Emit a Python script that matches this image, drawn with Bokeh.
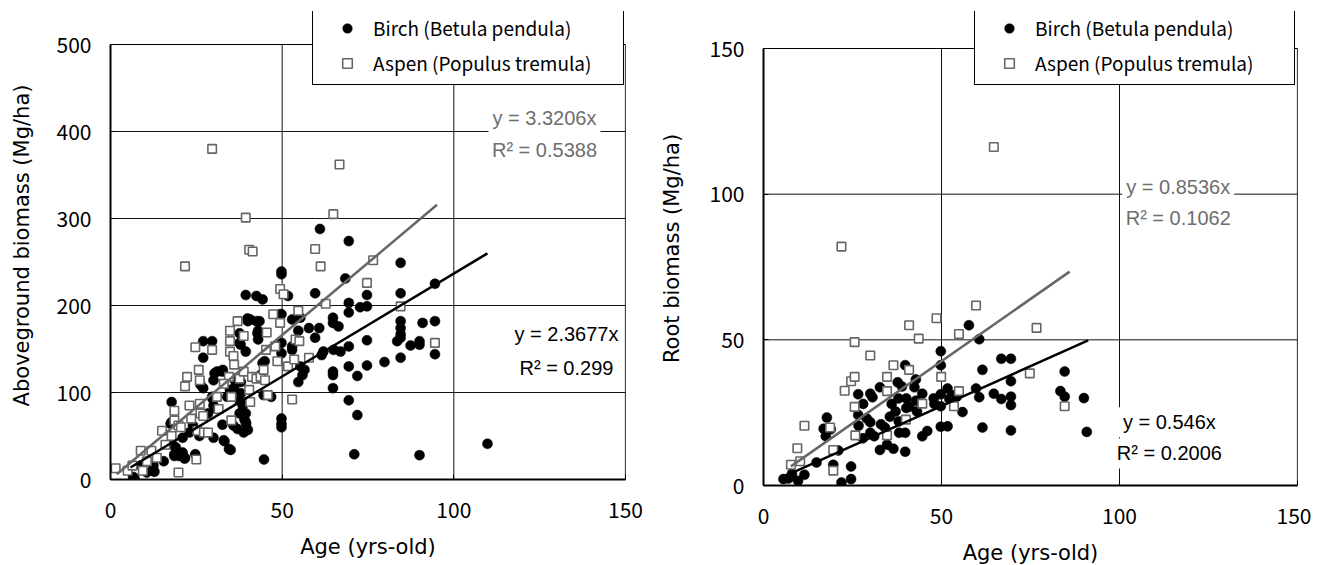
from bokeh.plotting import figure
from bokeh.models import Range1d, FixedTicker, Legend, LegendItem, Label
from bokeh.layouts import row
from bokeh.embed import file_html
from bokeh.resources import INLINE

# ---------------- data ----------------
# Left panel: aboveground biomass (Mg/ha) vs age (yrs)
birch_age_agb = [6.6, 12.5, 12.5, 17.8, 17.8, 18.6, 20, 21.7, 24.7, 21, 19, 27, 27, 29.6, 27, 29.6, 30, 30, 31, 30,
                 32.7, 33, 34.5, 34.8, 35.8, 36, 37, 37.6, 37, 37.6, 38, 37.6, 38.8, 39.4, 39.4, 39.4, 39.4, 40.7, 40,
                 42.5, 44.3, 42.5, 43, 43, 44.3, 44.6, 43.7, 44.7, 46.8, 49.8, 49.8, 49.8, 49.8, 49.8, 49.8, 49.8, 49.8,
                 51.7, 52.9, 52.9, 52.9, 54.7, 54.7, 55.3, 55.3, 55.9, 56.5, 57.8, 59.6, 59.6, 60.8, 61, 61.5, 62, 64.8,
                 64.8, 64.8, 64.8, 64.8, 65, 66.4, 67, 68.4, 69.4, 69.4, 69.4, 69.4, 69.4, 69.4, 71, 71.9, 71.9, 72.7,
                 74.7, 74.7, 74.7, 74.7, 79.8, 83.5, 84.5, 84.5, 84.5, 84.5, 84.5, 84.5, 84.5, 87.4, 90, 90, 90, 90.9,
                 94.5, 94.5, 94.5, 109.8, 35.8, 38, 38.5, 34, 28.4, 25.9, 24, 23, 21, 15.5, 10.6, 8.8, 30.3, 32.6, 26.2,
                 29.7, 30.3, 32.6, 33.2, 35, 39, 39.5, 40, 17.5, 18, 18.6, 21.6, 12.8, 7, 35, 36.4, 37.9, 38.4, 37.6,
                 37.9, 39.9, 43.4, 42.8, 44.9, 49.5]
birch_agb = [3, 10, 16, 89, 66, 27, 27, 25, 29, 48, 37, 159, 140, 159, 105, 95, 85, 48, 124, 114,
             126, 45, 35, 103, 62, 105, 58, 91, 112, 76, 112, 157, 54, 212, 66, 76, 147, 184, 182,
             211, 207, 182, 171, 161, 134, 97, 120, 23, 95, 239, 236, 70, 64, 60, 190, 157, 145,
             211, 153, 149, 184, 112, 171, 186, 130, 120, 126, 174, 214, 163, 174, 288, 143, 147, 186,
             180, 124, 105, 120, 149, 176, 147, 231, 274, 203, 192, 153, 130, 91, 29, 74, 119, 198,
             212, 199, 160, 131, 135, 159, 249, 214, 182, 174, 167, 163, 140, 154, 159, 155, 28, 180,
             225, 182, 144, 41, 116, 99, 85, 95, 76, 50, 62, 54, 31, 21, 8, 16, 122, 124, 109,
             93, 82, 63, 44, 34, 69, 64, 57, 64, 40, 29, 24, 9, 1, 101, 113, 90, 78, 168,
             155, 185, 182, 168, 136, 190]

aspen_age_agb = [1.5, 5, 6.4, 8.8, 9.4, 10.6, 11.9, 13.5, 15, 17.8, 18.6, 18.6, 19.8, 19.8, 21.7, 21.7, 22.3, 23.5,
                 24.7, 25, 25.3, 25.7, 26, 26, 26.2, 27.2, 28.4, 29.6, 29.6, 31.5, 34.5, 34.8, 34.8, 34.8, 35.2,
                 35.2, 35.8, 36, 37, 37.6, 38.8, 38.8, 39.4, 40.4, 41.4, 40.4, 40.7, 41.2, 42.5, 43.7, 44.6, 45,
                 45.3, 45.5, 45.8, 47.4, 48, 48.6, 49.4, 50.4, 49.4, 51.7, 52.9, 53.5, 53.9, 54.7, 55, 59.6, 61.2,
                 62.7, 64.9, 66.7, 57.8, 76.5, 74.7, 84.5, 94.5, 16, 20.5, 23, 27, 31, 33]
aspen_agb = [13, 10, 16, 33, 10, 21, 33, 25, 56, 50, 79, 68, 8, 62, 245, 107, 118, 70,
             152, 23, 56, 126, 114, 87, 76, 54, 54, 380, 149, 81, 118, 171, 159, 147, 95,
             68, 142, 132, 182, 116, 165, 124, 301, 264, 262, 103, 89, 118, 116, 118, 126, 114,
             149, 169, 97, 190, 153, 136, 219, 213, 180, 130, 92, 138, 161, 194, 159, 265, 245,
             202, 305, 362, 140, 252, 226, 199, 157, 40, 60, 85, 73, 95, 110]

# Right panel: root biomass (Mg/ha) vs age (yrs)
birch_age_root = [5.6, 7, 9.7, 11.5, 14.9, 16.9, 17.8, 17.5, 18.9, 19.6, 21, 21.9, 24.6, 24.6, 26.6, 26.6, 26.7,
                  27.9, 30, 30.6, 30, 30, 31.1, 32.7, 32.7, 34.1, 34.7, 35.5, 36.5, 37.1, 37.7, 37.9, 38.1, 38.9,
                  39.8, 40.1, 39.8, 39.8, 40.1, 42.4, 42.8, 42.8, 43.1, 44.6, 44.6, 46, 47.8, 49.8, 49.8, 49.8,
                  49.8, 49.8, 51.7, 51.7, 52.2, 54.3, 55.9, 57.7, 59.7, 60.6, 60.6, 61.5, 61.5, 64.7, 66.8, 66.8,
                  69.5, 69.5, 69.5, 69.5, 69.5, 83.4, 84.6, 84.6, 90, 90.8, 8, 28, 29, 33, 36, 38, 41, 48, 53]
birch_root = [2.2, 2.4, 1.6, 3.7, 7.9, 19.5, 23.3, 16.9, 19.3, 7.1, 12, 1, 6.5, 2.2, 31.3, 24.2, 20.5,
              16.2, 31.5, 30.3, 21.7, 18.1, 16.9, 33.7, 12.2, 19.9, 14, 23.6, 12.6, 25.4, 35.4, 29.9, 18.1, 34,
              41.3, 29.9, 18.1, 11.6, 26.6, 33.7, 36.4, 29.1, 25.4, 31.5, 16.9, 18.7, 29.9, 46.1, 41.3, 31.3,
              27.2, 20.2, 33.3, 20.3, 29.7, 30.5, 25.2, 55, 33.3, 50.2, 30.3, 39.7, 19.9, 31.5, 29.7, 43.5,
              43.5, 35.8, 30.5, 27.6, 18.9, 32.4, 39.1, 30.5, 30, 18.4, 4, 28, 23, 21, 28, 22, 27, 28, 31]

aspen_age_root = [7.7, 9.5, 10.3, 11.5, 18.7, 19.6, 19.6, 21.9, 22.8, 24.6, 25.6, 25.6, 25.6, 25.8, 30, 34.7, 34.7,
                  34.7, 36.5, 40, 40.9, 40.9, 43.6, 44.6, 48.6, 49.9, 53.5, 54.9, 54.9, 59.7, 64.7, 74.8, 76.7, 84.6]
aspen_root = [7.1, 12.8, 8.3, 20.5, 19.9, 12.2, 5.1, 82, 32.5, 35.8, 37.3, 27, 49.2, 17.2, 44.6, 37.3, 32.4,
              17.2, 41.3, 22.6, 55, 39.7, 50.4, 28.1, 57.4, 37.3, 27.2, 52, 32.4, 61.8, 116.2, 38.5, 54.1, 27.2]

# Linear fits through origin (slope, R2, fitted age span)
agb_birch_fit = {"slope": 2.3677, "r2": "0.299", "x": [5.8, 109.8]}
agb_aspen_fit = {"slope": 3.3206, "r2": "0.5388", "x": [1.8, 95.1]}
root_birch_fit = {"slope": 0.546, "r2": "0.2006", "x": [5.0, 91.2]}
root_aspen_fit = {"slope": 0.8536, "r2": "0.1062", "x": [7.7, 86.0]}

x_ticks = [0, 50, 100, 150]
agb_ticks = [0, 100, 200, 300, 400, 500]
root_ticks = [0, 50, 100, 150]

CJK = "Noto Sans CJK JP"
WIDE = "DejaVu Sans"
ARIAL = "Liberation Sans"
GRAY = "#6e6e6e"
XMAX = 150


def panel(bx, by, ax, ay, bfit, afit, ymax, yticks, ylabel, geom, legend_loc, legend_lw,
          ann_b, ann_a):
    # frame extends above the data area so the legend (which sits above the
    # top border) is not clipped; the top border itself is drawn at ymax.
    fh = geom["fh"] + geom["extra"]
    yend = ymax * fh / geom["fh"]
    p = figure(frame_width=geom["fw"], frame_height=fh,
               x_range=Range1d(0, XMAX), y_range=Range1d(0, yend),
               output_backend="svg", toolbar_location=None,
               min_border_left=geom["l"], min_border_right=geom["r"],
               min_border_top=geom["t"], min_border_bottom=geom["b"],
               background_fill_color="white", border_fill_color="white")
    p.outline_line_color = None
    p.xgrid.visible = False
    p.ygrid.visible = False

    # grid lines, from the tick lists
    vx = [t for t in x_ticks if t > 0]
    hy = [t for t in yticks if t > 0]
    p.segment(x0=vx, y0=[0] * len(vx), x1=vx, y1=[ymax] * len(vx),
              line_color="#111111", line_width=1)
    p.segment(x0=[0] * len(hy), y0=hy, x1=[XMAX] * len(hy), y1=hy,
              line_color="#111111", line_width=1)

    p.xaxis.ticker = FixedTicker(ticks=x_ticks)
    p.yaxis.ticker = FixedTicker(ticks=yticks)
    p.yaxis.bounds = (0, ymax)
    for a in (p.xaxis, p.yaxis):
        a.axis_line_color = "black"
        a.axis_line_width = 2
        a.major_tick_in = 5
        a.major_tick_out = 0
        a.minor_tick_in = 0
        a.minor_tick_out = 0
        a.major_tick_line_color = "black"
        a.major_label_text_font = CJK
        a.major_label_text_font_size = "21px"
        a.major_label_text_color = "black"
        a.axis_label_text_font = WIDE
        a.axis_label_text_font_size = "21px"
        a.axis_label_text_font_style = "normal"
        a.axis_label_text_color = "black"
    p.xaxis.axis_label = "Age (yrs-old)"
    p.yaxis.axis_label = ylabel
    p.xaxis.major_label_standoff = 22
    p.xaxis.axis_label_standoff = geom["xls"]
    p.yaxis.major_label_standoff = 19
    p.yaxis.axis_label_standoff = geom["yls"]

    rb = p.scatter(bx, by, marker="circle", size=10, fill_color="black", line_color="black",
                   line_width=0.5)
    ra = p.scatter(ax, ay, marker="square", size=8.5, fill_color="white", line_color="#666666",
                   line_width=1.6)

    bxs = bfit["x"]
    axs = afit["x"]
    p.line(axs, [afit["slope"] * v for v in axs], line_color="#666666", line_width=2.5)
    p.line(bxs, [bfit["slope"] * v for v in bxs], line_color="black", line_width=2.5)

    legend = Legend(items=[LegendItem(label="Birch (Betula pendula)", renderers=[rb]),
                           LegendItem(label="Aspen (Populus tremula)", renderers=[ra])],
                    location=legend_loc, orientation="vertical",
                    padding=8, spacing=8, margin=0,
                    glyph_width=52, glyph_height=24, label_height=24, label_width=legend_lw,
                    label_standoff=0,
                    border_line_color="black", border_line_width=1, border_line_alpha=1,
                    background_fill_color="white", background_fill_alpha=1,
                    label_text_font=CJK, label_text_font_size="19px", label_text_color="black")
    p.add_layout(legend)

    for (x, y1, y2, fit, color) in (ann_a + (afit, GRAY), ann_b + (bfit, "black")):
        for yy, txt in ((y1, "y = %sx" % fit["slope"]), (y2, "R\u00b2 = %s" % fit["r2"])):
            p.add_layout(Label(x=x, y=yy, text=txt, text_align="center", text_baseline="middle",
                               text_font=ARIAL, text_font_size="20px", text_color=color,
                               background_fill_color="white", background_fill_alpha=1,
                               padding=4))

    # top and right border
    p.segment(x0=[0, XMAX], y0=[ymax, 0], x1=[XMAX, XMAX], y1=[ymax, ymax],
              line_color="black", line_width=1.2)
    return p


left = panel(birch_age_agb, birch_agb, aspen_age_agb, aspen_agb, agb_birch_fit, agb_aspen_fit,
             500, agb_ticks, "Aboveground biomass (Mg/ha)",
             dict(fw=515, fh=435, extra=33, l=110, r=30, t=11, b=70, xls=14, yls=20),
             (202, 394), 242,
             (132.8, 167.8, 127.6), (126.4, 415, 379))
right = panel(birch_age_root, birch_root, aspen_age_root, aspen_root, root_birch_fit, root_aspen_fit,
              150, root_ticks, "Root biomass (Mg/ha)",
              dict(fw=534, fh=437, extra=37, l=108, r=14, t=11, b=64, xls=14, yls=23),
              (211, 400), 251,
              (114.0, 21.7, 11.0), (116.5, 102.4, 91.7))

layout = row(left, right)
open("out.html", "w").write(file_html(layout, INLINE))
